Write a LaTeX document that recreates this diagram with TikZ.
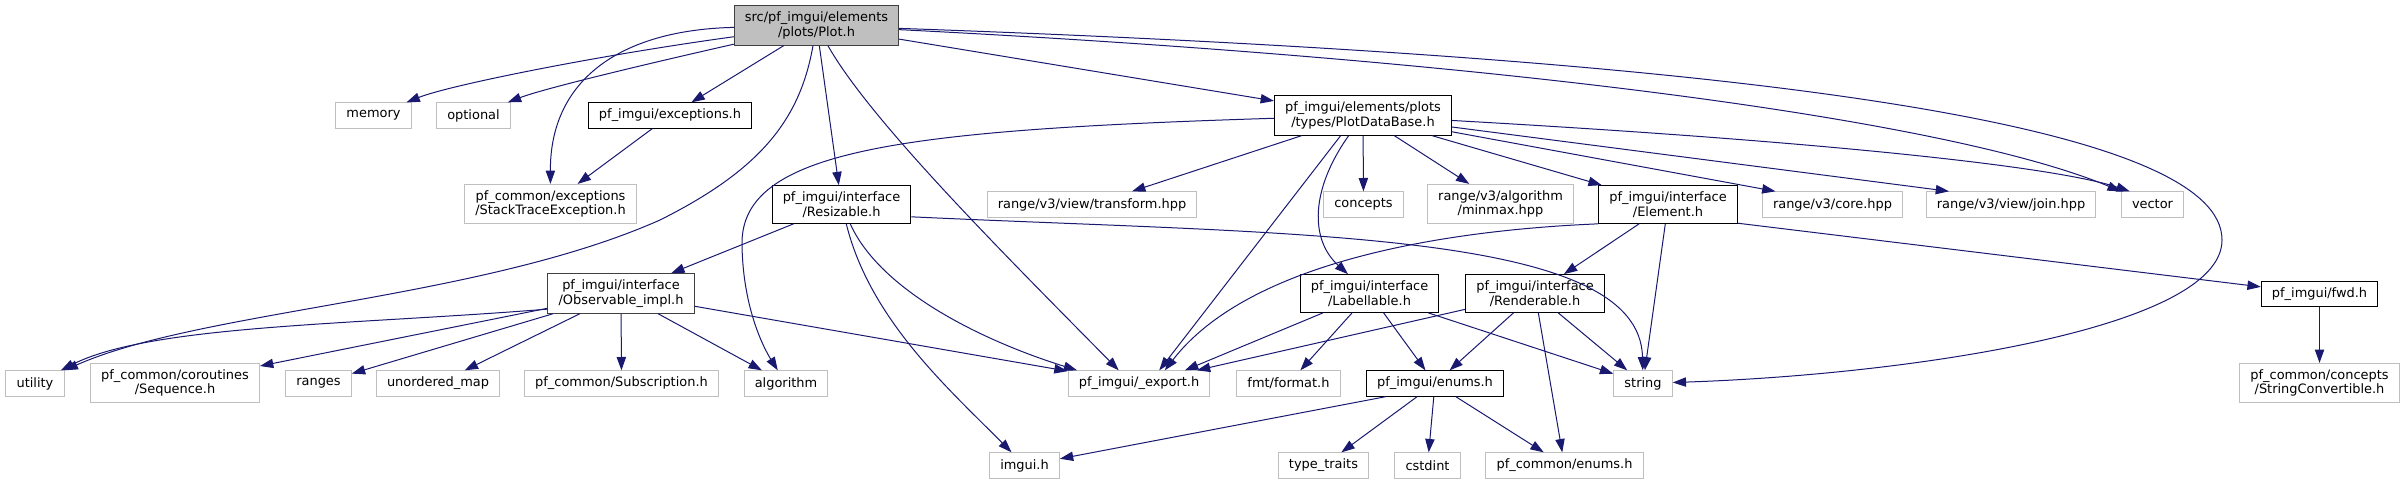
\documentclass[tikz,border=0pt]{standalone}
\usepackage{fontspec}
\setmainfont{DejaVu Sans}
\usepackage{tikz}
\usetikzlibrary{arrows.meta}
\definecolor{edgeblue}{RGB}{25, 25, 112}
\definecolor{extgray}{RGB}{191, 191, 191}
\definecolor{rootgray}{RGB}{64, 64, 64}

\begin{document}
\begin{tikzpicture}[x=0.75pt, y=-0.75pt,
  hfile/.style={draw=black, fill=white, line width=0.75pt, font=\fontsize{9.7}{11}\selectfont, align=center, inner xsep=8pt, inner ysep=4.5pt, minimum height=19pt},
  sysfile/.style={hfile, draw=extgray},
  rootfile/.style={hfile, draw=rootgray, fill=extgray},
  inc/.style={-{Triangle[length=10pt, width=7pt]}, edgeblue, line width=0.75pt}]

  \useasboundingbox (0,0) rectangle (2405,484);

  \node[rootfile] (plot) at (816.5,25.5) {src/pf\_imgui/elements\\/plots/Plot.h};

  \node[sysfile] (memory) at (373.5,115.5) {memory};
  \node[sysfile] (optional) at (473.5,115.5) {optional};
  \node[hfile] (exc) at (670,115.5) {pf\_imgui/exceptions.h};
  \node[hfile] (pdb) at (1363,115.5) {pf\_imgui/elements/plots\\/types/PlotDataBase.h};

  \node[sysfile] (stack) at (550.5,204) {pf\_common/exceptions\\/StackTraceException.h};
  \node[hfile] (resz) at (841.5,204.5) {pf\_imgui/interface\\/Resizable.h};
  \node[sysfile] (transf) at (1092,204.5) {range/v3/view/transform.hpp};
  \node[sysfile] (concepts) at (1363.5,204.5) {concepts};
  \node[sysfile] (minmax) at (1500.5,204) {range/v3/algorithm\\/minmax.hpp};
  \node[hfile] (elem) at (1668,204.5) {pf\_imgui/interface\\/Element.h};
  \node[sysfile] (core) at (1832.5,204.5) {range/v3/core.hpp};
  \node[sysfile] (join) at (2011,204.5) {range/v3/view/join.hpp};
  \node[sysfile] (vector) at (2152.5,204.5) {vector};

  \node[hfile, draw=rootgray] (obs) at (621,293.5) {pf\_imgui/interface\\/Observable\_impl.h};
  \node[hfile] (lab) at (1369.5,293.5) {pf\_imgui/interface\\/Labellable.h};
  \node[hfile] (rend) at (1535,293.5) {pf\_imgui/interface\\/Renderable.h};
  \node[hfile] (fwd) at (2319.5,294) {pf\_imgui/fwd.h};

  \node[sysfile] (utility) at (35,383.5) {utility};
  \node[sysfile] (seq) at (175,383) {pf\_common/coroutines\\/Sequence.h};
  \node[sysfile] (ranges) at (318.5,383.5) {ranges};
  \node[sysfile] (umap) at (438,383.5) {unordered\_map};
  \node[sysfile] (subs) at (621.5,383.5) {pf\_common/Subscription.h};
  \node[sysfile] (algo) at (786,383.5) {algorithm};
  \node[sysfile] (export) at (1139,383.5) {pf\_imgui/\_export.h};
  \node[sysfile] (fmt) at (1288.5,383.5) {fmt/format.h};
  \node[hfile] (enums) at (1435,383.5) {pf\_imgui/enums.h};
  \node[sysfile] (string) at (1643,383.5) {string};
  \node[sysfile] (strconv) at (2319.5,383) {pf\_common/concepts\\/StringConvertible.h};

  \node[sysfile] (imgui) at (1024.5,465.5) {imgui.h};
  \node[sysfile] (ttraits) at (1323.5,465.5) {type\_traits};
  \node[sysfile] (cstdint) at (1427.5,465.5) {cstdint};
  \node[sysfile] (cenums) at (1564.5,465.5) {pf\_common/enums.h};

  \draw[inc] (plot) .. controls (620,30) and (550,80) .. (stack);
  \draw[inc] (plot) .. controls (600,55) and (450,85) .. (memory);
  \draw[inc] (plot) .. controls (620,70) and (540,90) .. (optional);
  \draw[inc] (plot) -- (exc);
  \draw[inc] (plot) .. controls (800,120) and (760,170) .. (660,220) .. controls (480,300) and (200,310) .. (utility);
  \draw[inc] (plot) -- (resz);
  \draw[inc] (plot) .. controls (870,120) and (1000,250) .. (export.147);
  \draw[inc] (plot) -- (pdb);
  \draw[inc] (plot) .. controls (1500,60) and (1950,120) .. (vector.north west);
  \draw[inc] (plot) .. controls (1800,60) and (2222,130) .. (2222,240) .. controls (2222,330) and (1900,375) .. (string);

  \draw[inc] (exc) -- (stack);

  \draw[inc] (pdb) .. controls (900,130) and (740,150) .. (742,245) .. controls (743,310) and (765,350) .. (algo);
  \draw[inc] (pdb) -- (transf);
  \draw[inc] (pdb.222) -- (export.33);
  \draw[inc] (pdb) .. controls (1310,190) and (1310,240) .. (lab);
  \draw[inc] (pdb) -- (concepts);
  \draw[inc] (pdb) -- (minmax);
  \draw[inc] (pdb) -- (elem);
  \draw[inc] (pdb) -- (core.167);
  \draw[inc] (pdb) -- (join.168);
  \draw[inc] (pdb) .. controls (1800,140) and (2050,165) .. (vector.150);

  \draw[inc] (resz) -- (obs);
  \draw[inc] (resz) .. controls (870,320) and (950,390) .. (imgui);
  \draw[inc] (resz) .. controls (880,290) and (980,340) .. (export.168);
  \draw[inc] (resz.-10) .. controls (1300,235) and (1640,230) .. (string);

  \draw[inc] (elem) -- (rend);
  \draw[inc] (elem.south west) .. controls (1450,230) and (1250,260) .. (export.27);
  \draw[inc] (elem) -- (string);
  \draw[inc] (elem.-15) -- (fwd);

  \draw[inc] (obs.192) .. controls (350,325) and (150,325) .. (utility);
  \draw[inc] (obs) -- (seq);
  \draw[inc] (obs) -- (ranges);
  \draw[inc] (obs) -- (umap);
  \draw[inc] (obs) -- (subs);
  \draw[inc] (obs) -- (algo);
  \draw[inc] (obs) -- (export);

  \draw[inc] (lab) -- (export.16);
  \draw[inc] (lab) -- (fmt);
  \draw[inc] (lab) -- (enums);
  \draw[inc] (lab) -- (string);

  \draw[inc] (rend) -- (export);
  \draw[inc] (rend) -- (enums);
  \draw[inc] (rend) -- (cenums);
  \draw[inc] (rend) -- (string);

  \draw[inc] (enums.195) -- (imgui);
  \draw[inc] (enums) -- (ttraits);
  \draw[inc] (enums) -- (cstdint);
  \draw[inc] (enums) -- (cenums);

  \draw[inc] (fwd) -- (strconv);
\end{tikzpicture}
\end{document}
